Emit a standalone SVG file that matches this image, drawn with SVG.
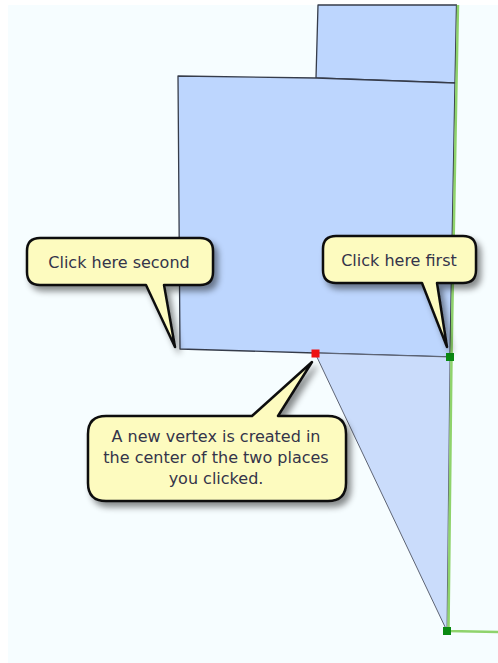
<svg xmlns="http://www.w3.org/2000/svg" width="498" height="663" viewBox="0 0 498 663">
  <defs>
    <filter id="shadow" x="-20%" y="-20%" width="150%" height="160%">
      <feDropShadow dx="4" dy="5" stdDeviation="3" flood-color="#000" flood-opacity="0.45"/>
    </filter>
    <style>
      .poly { fill: #bdd6fe; stroke: #363c4a; stroke-width: 1.3; stroke-linejoin: round; }
      .tri { fill: #cadcfb; stroke: #5e6474; stroke-width: 1; }
      .green { fill: none; stroke: #8fd36c; stroke-width: 2.5; }
      .callout { fill: #fdfbbf; stroke: #111; stroke-width: 2.5; stroke-linejoin: round; filter: url(#shadow); }
      .label { font-family: "DejaVu Sans", Verdana, sans-serif; font-size: 16px; fill: #34344a; text-anchor: middle; }
      .vgreen { fill: #0a8a12; }
      .vred { fill: #ee1111; }
    </style>
  </defs>
  <rect x="0" y="0" width="498" height="663" fill="#ffffff"/>
  <rect x="8" y="5" width="490" height="658" fill="#f6fdff"/>

  <g id="parcels">
    <polygon class="poly" points="318,5 456.5,5 455,83 316,78"/>
    <polygon class="poly" points="178,76 316,78 455,83 450,357 315,353 180,349"/>
    <polygon class="tri" points="315,353 450,357 447,631"/>
  </g>

  <g id="connectors">
    <polyline class="green" points="458,5 456.5,83 451.5,357 448.5,631 498,632"/>
  </g>

  <g id="vertices">
    <rect class="vred" x="311.5" y="349.5" width="8" height="8"/>
    <rect class="vgreen" x="446" y="353" width="8" height="8"/>
    <rect class="vgreen" x="443" y="627" width="8" height="8"/>
  </g>

  <g id="callout-second">
    <path class="callout" d="M 40 238 H 200 Q 213 238 213 251 V 272 Q 213 285 200 285 H 164 L 175 347 L 146 285 H 40 Q 27 285 27 272 V 251 Q 27 238 40 238 Z"/>
    <text class="label" x="119" y="268">Click here second</text>
  </g>

  <g id="callout-first">
    <path class="callout" d="M 336 236 H 463 Q 476 236 476 249 V 270 Q 476 283 463 283 H 437 L 447 347 L 422 283 H 336 Q 323 283 323 270 V 249 Q 323 236 336 236 Z"/>
    <text class="label" x="399" y="266">Click here first</text>
  </g>

  <g id="callout-new-vertex">
    <path class="callout" d="M 106 416 H 252 L 312 362 L 278 416 H 328 Q 346 416 346 434 V 483 Q 346 501 328 501 H 106 Q 88 501 88 483 V 434 Q 88 416 106 416 Z"/>
    <text class="label" x="216" y="442">A new vertex is created in</text>
    <text class="label" x="216" y="463">the center of the two places</text>
    <text class="label" x="216" y="484">you clicked.</text>
  </g>
</svg>
